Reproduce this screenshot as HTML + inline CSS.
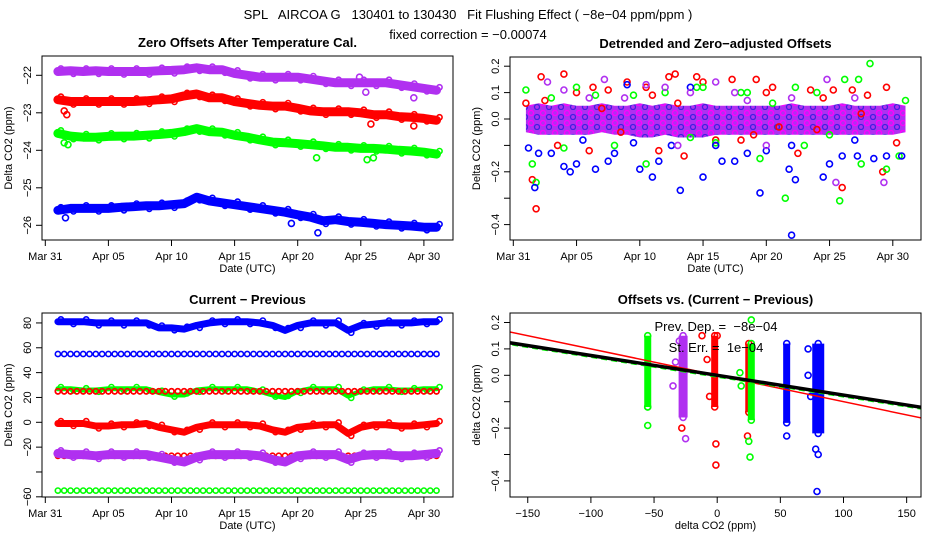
<!DOCTYPE html>
<html><head><meta charset="utf-8"><style>
html,body{margin:0;padding:0;background:#fff;}
svg{display:block;font-family:"Liberation Sans",sans-serif;}
.pre{white-space:pre;}
</style></head><body>
<svg id="c" width="936" height="540" viewBox="0 0 936 540" xmlns="http://www.w3.org/2000/svg">
<defs>
<pattern id="mix" x="0" y="0" width="12" height="10" patternUnits="userSpaceOnUse">
<rect width="12" height="10" fill="#b030f0"/>
<circle cx="3" cy="3" r="2.5" fill="none" stroke="#ff00ff" stroke-width="1.3"/>
<circle cx="9" cy="7" r="2.5" fill="none" stroke="#4020e0" stroke-width="1.3"/>
</pattern>
</defs>
<text class="pre" x="468" y="19" text-anchor="middle" font-size="13">SPL   AIRCOA G   130401 to 130430   Fit Flushing Effect ( −8e−04 ppm/ppm )</text>
<text x="468" y="39" text-anchor="middle" font-size="13">fixed correction = −0.00074</text>
</svg>
<script>
// ---------- data ----------
var dayTicks = [0,5,10,15,20,25,30];
var dayLabels = ["Mar 31","Apr 05","Apr 10","Apr 15","Apr 20","Apr 25","Apr 30"];
var days = [1,2,3,4,5,6,7,8,9,10,11,12,13,14,15,16,17,18,19,20,21,22,23,24,25,26,27,28,29,30,31];
// panel 1: zero offsets
var tlPurple = [-21.9,-21.88,-21.9,-21.88,-21.9,-21.9,-21.9,-21.9,-21.88,-21.87,-21.85,-21.8,-21.85,-21.85,-21.95,-22.0,-22.05,-22.05,-22.05,-22.05,-22.1,-22.15,-22.2,-22.2,-22.2,-22.2,-22.2,-22.25,-22.3,-22.35,-22.4];
var tlRed = [-22.65,-22.7,-22.7,-22.7,-22.7,-22.7,-22.7,-22.68,-22.65,-22.63,-22.55,-22.5,-22.6,-22.6,-22.7,-22.75,-22.8,-22.82,-22.82,-22.88,-22.95,-22.97,-22.97,-22.97,-23.0,-23.05,-23.05,-23.1,-23.12,-23.15,-23.2];
var tlGreen = [-23.55,-23.62,-23.65,-23.65,-23.63,-23.62,-23.62,-23.6,-23.58,-23.55,-23.5,-23.42,-23.5,-23.52,-23.6,-23.65,-23.72,-23.78,-23.8,-23.82,-23.85,-23.88,-23.92,-23.92,-23.95,-23.95,-23.97,-24.0,-24.02,-24.05,-24.1];
var tlBlue = [-25.6,-25.55,-25.55,-25.55,-25.55,-25.52,-25.5,-25.48,-25.48,-25.45,-25.42,-25.25,-25.35,-25.4,-25.45,-25.5,-25.55,-25.6,-25.65,-25.72,-25.78,-25.88,-25.85,-25.9,-25.92,-25.95,-25.98,-26.0,-26.02,-26.05,-26.05];
var tlOutRed = [[1.5,-22.95],[1.7,-23.05],[25.8,-23.3],[29.2,-23.35]];
var tlOutGreen = [[1.5,-23.8],[1.8,-23.85],[21.5,-24.2],[25.5,-24.25],[26,-24.2]];
var tlOutBlue = [[1.6,-25.8],[19.5,-25.95],[21.6,-26.2]];
var tlOutPurple = [[24.9,-22.05],[25.4,-22.45],[29.2,-22.6]];
var tlYTicks = [-22,-23,-24,-25,-26];
// panel 2: detrended
var trRed = [[1,0.06],[1.5,-0.23],[1.8,-0.34],[2.2,0.16],[4,0.17],[5,0.1],[6.3,0.12],[7.5,0.11],[9,0.14],[10.5,0.12],[11,0.09],[12.3,0.16],[12.8,0.17],[13.5,-0.14],[14.5,0.16],[15,0.14],[17.3,0.15],[19.2,0.15],[20,0.1],[20.5,0.12],[22.5,-0.13],[23.5,0.11],[24.5,0.08],[25.3,0.11],[26,-0.26],[26.8,0.11],[28,0.09],[29.2,-0.2],[29.5,0.12],[30.3,-0.09],[3.5,-0.1],[8.5,-0.05],[16,-0.08],[21,-0.03],[6,-0.12],[11.5,-0.12],[18,-0.08],[2.5,0.07],[7,0.04],[13,0.06],[19,-0.06],[24,-0.04],[27.5,0.02]];
var trGreen = [[1,0.11],[1.5,-0.17],[1.8,-0.24],[5,0.12],[6.5,0.09],[9.5,0.09],[12,0.1],[14.5,0.12],[15,0.12],[18,0.1],[18.5,0.1],[19.5,-0.15],[21.5,-0.3],[22.3,0.12],[24,0.1],[25.8,-0.31],[26.2,0.15],[27.3,0.15],[27.5,-0.17],[28.2,0.21],[29.5,-0.19],[30.5,-0.14],[31,0.07],[10.5,-0.17],[4,-0.11],[8,-0.1],[16,-0.09],[23,-0.1],[3,0.08],[14,-0.07],[20.5,0.06],[25,-0.06]];
var trBlue = [[1.2,-0.11],[1.7,-0.26],[2,-0.13],[4,-0.18],[4.5,-0.2],[5,-0.17],[6.5,-0.19],[7.5,-0.16],[9,0.13],[10,-0.19],[11,-0.22],[11.5,-0.16],[13.2,-0.27],[14,0.12],[15,-0.22],[16.5,-0.16],[17.5,-0.16],[18.5,-0.13],[19.5,-0.28],[21.8,-0.19],[22,-0.44],[22.3,-0.23],[24.5,-0.22],[25,-0.17],[26,-0.14],[27.2,-0.14],[28.5,-0.15],[29.5,-0.14],[30.7,-0.14],[8,-0.13],[3,-0.13],[12.5,-0.1],[20,-0.12],[5.5,-0.08],[9.5,-0.09],[16,-0.1],[22,-0.1],[27,-0.08]];
var trPurple = [[2.7,0.14],[4,0.11],[7.2,0.15],[8.8,0.08],[10.5,0.13],[12,0.12],[14,0.1],[16,0.14],[17.5,0.1],[22,0.08],[24.8,0.15],[25.5,-0.24],[27,0.08],[29.3,-0.24],[20,-0.1],[6,0.08],[18.5,0.07],[13,-0.1]];
var trMassHi = [0.05,0.06,0.05,0.06,0.05,0.05,0.06,0.05,0.05,0.06,0.05,0.06,0.05,0.05,0.06,0.05,0.05,0.05,0.05,0.05,0.05,0.06,0.05,0.05,0.05,0.06,0.05,0.05,0.05,0.06,0.05];
var trMassLo = [-0.05,-0.06,-0.06,-0.06,-0.06,-0.06,-0.05,-0.06,-0.06,-0.07,-0.07,-0.06,-0.07,-0.07,-0.07,-0.06,-0.06,-0.06,-0.06,-0.06,-0.06,-0.06,-0.06,-0.06,-0.06,-0.06,-0.06,-0.06,-0.06,-0.06,-0.05];
var trYTicks = [0.2,0.1,0.0,-0.1,-0.2,-0.3,-0.4];
var trYLabels = ["0.2","0.1","0.0","","-0.2","","-0.4"];
// panel 3: current - previous
var blBlue80 = [81,81,81,80,80,80,80,80,76,76,75,78,80,81,81,81,80,78,74,78,80,80,80,74,78,79,80,80,80,81,81];
var blGreen27 = [27,27,26,26,27,27,27,27,24,22,22,26,27,27,27,27,25,22,20,25,27,27,27,21,25,27,27,26,26,27,27];
var blRed0 = [-1,-1,-1,-3,-3,-2,-2,-1,-4,-6,-8,-4,-2,-2,-2,-2,-3,-6,-8,-4,-3,-2,-2,-9,-4,-2,-2,-3,-3,-2,-1];
var blPurple25 = [-25,-26,-26,-27,-26,-26,-26,-26,-28,-30,-32,-28,-26,-26,-26,-26,-27,-30,-32,-27,-26,-26,-26,-30,-27,-26,-26,-27,-27,-26,-25];
var blConstLevels = [55,25,-27,-55];
var blConstColors = ["#0000ff","#ff0000","#ff0000","#00ff00"];
var blYTicks = [80,60,40,20,0,-20,-40,-60];
var blYLabels = ["80","60","40","20","0","-20","","-60"];
// panel 4: offsets vs current-previous
var brClusterX = [-55,-27,-2,25,27,55,80];
var brClusterTop = [0.15,0.15,0.15,0.12,0.12,0.12,0.12];
var brClusterBot = [-0.12,-0.16,-0.12,-0.14,-0.17,-0.18,-0.22];
var brClusterColors = ["#00ff00","#b030f0","#ff0000","#ff0000","#00ff00","#0000ff","#0000ff"];
var brOutliers = [[-55,-0.19,"#00ff00"],[-55,-0.12,"#00ff00"],[-28,-0.2,"#ff0000"],[-25,-0.24,"#b030f0"],[-1,-0.26,"#ff0000"],[-1,-0.34,"#ff0000"],[24,-0.23,"#ff0000"],[25,-0.25,"#00ff00"],[26,-0.31,"#00ff00"],[27,0.21,"#00ff00"],[55,-0.23,"#0000ff"],[78,-0.28,"#0000ff"],[80,-0.3,"#0000ff"],[79,-0.44,"#0000ff"],[-12,0.15,"#ff0000"],[0,0.15,"#ff0000"],[72,0.1,"#0000ff"],[-30,0.13,"#b030f0"],[-33,0.05,"#b030f0"],[-35,-0.04,"#b030f0"],[-8,0.06,"#ff0000"],[-6,-0.08,"#ff0000"],[18,0.01,"#00ff00"],[19,-0.04,"#00ff00"],[72,0.0,"#0000ff"],[74,-0.08,"#0000ff"]];
var brXTicks = [-150,-100,-50,0,50,100,150];
var brYTicks = [0.2,0.1,0.0,-0.1,-0.2,-0.3,-0.4];
var brYLabels = ["0.2","0.1","0.0","","-0.2","","-0.4"];
var fitBlackSlope = -0.00075;
var fitRedSlope = -0.001;

// ---------- drawing ----------
var svg = document.getElementById('c');
var NS = "http://www.w3.org/2000/svg";
function mk(tag, attrs, parent){
  var e = document.createElementNS(NS, tag);
  for (var k in attrs) e.setAttribute(k, attrs[k]);
  (parent||svg).appendChild(e);
  return e;
}
function txt(x,y,s,size,anchor,parent,rot,bold){
  var t = mk('text',{x:x,y:y,'font-size':size,'text-anchor':anchor||'middle'},parent);
  if (rot) t.setAttribute('transform','rotate(-90 '+x+' '+y+')');
  if (bold) t.setAttribute('font-weight','bold');
  t.textContent = s;
  return t;
}
function panel(name, L, T, R, B, title, xlabel, ylabel, xs, xticks, xlabels, ys, yticks, ylabels){
  var g = mk('g',{});
  
  
  var tt = txt((L+R)/2, T-9, title, 13, 'middle', g, false, true);
  
  
  var pts = mk('g',{},g);
  
  
  var ax = mk('g',{stroke:'#000','stroke-width':1,fill:'none'},g);
  
  
  mk('rect',{x:L,y:T,width:R-L,height:B-T},ax);
  var x0 = xs(xticks[0]), x1 = xs(xticks[xticks.length-1]);
  mk('line',{x1:x0,y1:B,x2:x1,y2:B},ax);
  for (var i=0;i<xticks.length;i++){
    var x = xs(xticks[i]);
    mk('line',{x1:x,y1:B,x2:x,y2:B+6},ax);
    var lt = txt(x, B+20, xlabels[i], 11, 'middle', g);
    
    
  }
  var y0 = ys(yticks[0]), y1 = ys(yticks[yticks.length-1]);
  mk('line',{x1:L,y1:y0,x2:L,y2:y1},ax);
  for (var j=0;j<yticks.length;j++){
    var y = ys(yticks[j]);
    mk('line',{x1:L-6,y1:y,x2:L,y2:y},ax);
    if (ylabels[j]!==""){
      var yl = txt(L-11, y, ylabels[j].replace('-','−'), 11, 'middle', g, true);
      
      
    }
  }
  var xl = txt((L+R)/2, B+32, xlabel, 11, 'middle', g);
  
  
  var yt = txt(L-30, (T+B)/2, ylabel, 11, 'middle', g, true);
  
  
  return pts;
}
function circ(p, x, y, col, r){
  var c = mk('circle',{cx:x.toFixed(1),cy:y.toFixed(1),r:r||3,fill:'none',stroke:col,'stroke-width':1.6},p);
  
  
}
function band(p, xs, ys, xsArr, vals, col, w){
  var d = '';
  for (var i=0;i<vals.length;i++) d += (i?'L':'M') + xs(xsArr[i]).toFixed(1)+','+ys(vals[i]).toFixed(1);
  var pa = mk('path',{d:d,fill:'none',stroke:col,'stroke-width':w,'stroke-linejoin':'round','stroke-linecap':'round'},p);
  
  
  for (var k=0;k<vals.length;k++){
    circ(p, xs(xsArr[k])+3, ys(vals[k]) + ((k%2)? w/3 : -w/3), col, 2.6);
  }
}
var dayFmt = dayLabels;

// Panel 1
(function(){
  var xs = function(d){return 45.3 + d*12.62;};
  var ys = function(v){return 75.3 + (-22 - v)*37.5;};
  var p = panel('zero-offsets-panel',42,56,453,240,'Zero Offsets After Temperature Cal.','Date (UTC)','Delta CO2 (ppm)',xs,dayTicks,dayFmt,ys,tlYTicks,tlYTicks.map(String));
  band(p,xs,ys,days,tlPurple,'#b030f0',9);
  band(p,xs,ys,days,tlRed,'#ff0000',9);
  band(p,xs,ys,days,tlGreen,'#00ff00',9);
  band(p,xs,ys,days,tlBlue,'#0000ff',9);
  var outs=[[tlOutRed,'#ff0000'],[tlOutGreen,'#00ff00'],[tlOutBlue,'#0000ff'],[tlOutPurple,'#b030f0']];
  outs.forEach(function(o){o[0].forEach(function(q){circ(p,xs(q[0]),ys(q[1]),o[1]);});});
})();

// Panel 2
(function(){
  var xs = function(d){return 513.3 + d*12.65;};
  var ys = function(v){return 119 - v*264;};
  var p = panel('detrended-panel',510,57,921,240,'Detrended and Zero−adjusted Offsets','Date (UTC)','Delta CO2 (ppm)',xs,dayTicks,dayFmt,ys,trYTicks,trYLabels);
  var d='';
  for (var i=0;i<days.length;i++) d+=(i?'L':'M')+xs(days[i]).toFixed(1)+','+ys(trMassHi[i]).toFixed(1);
  for (var k=days.length-1;k>=0;k--) d+='L'+xs(days[k]).toFixed(1)+','+ys(trMassLo[k]).toFixed(1);
  var m = mk('path',{d:d+'Z',fill:'url(#mix)',stroke:'none'},p);
  
  
  [[trRed,'#ff0000'],[trGreen,'#00ff00'],[trBlue,'#0000ff'],[trPurple,'#b030f0']].forEach(function(o){
    o[0].forEach(function(q){circ(p,xs(q[0]),ys(q[1]),o[1]);});
  });
})();

// Panel 3
(function(){
  var xs = function(d){return 45.3 + d*12.62;};
  var ys = function(v){return 422.3 - v*1.242;};
  var p = panel('current-minus-previous-panel',42,313,453,497,'Current − Previous','Date (UTC)','Delta CO2 (ppm)',xs,dayTicks,dayFmt,ys,blYTicks,blYLabels);
  for (var c=0;c<blConstLevels.length;c++){
    for (var d=1; d<=31; d+=0.5) circ(p,xs(d),ys(blConstLevels[c]),blConstColors[c],2.6);
  }
  band(p,xs,ys,days,blGreen27,'#00ff00',5);
  band(p,xs,ys,days,blPurple25,'#b030f0',9);
  band(p,xs,ys,days,blBlue80,'#0000ff',7);
  band(p,xs,ys,days,blRed0,'#ff0000',7);
  for (var e=1; e<=31; e+=0.5) circ(p,xs(e),ys(blConstLevels[1]),'#ff0000',2.6);
})();

// Panel 4
(function(){
  var xs = function(v){return 717.2 + v*1.263;};
  var ys = function(v){return 375.3 - v*264;};
  var p = panel('offsets-vs-difference-panel',510,313,921,497,'Offsets vs. (Current − Previous)','delta CO2 (ppm)','delta CO2 (ppm)',xs,brXTicks,brXTicks.map(function(v){return String(v).replace('-','−');}),ys,brYTicks,brYLabels);
  for (var i=0;i<brClusterX.length;i++){
    var l = mk('line',{x1:xs(brClusterX[i]),y1:ys(brClusterTop[i]),x2:xs(brClusterX[i]),y2:ys(brClusterBot[i]),stroke:brClusterColors[i],'stroke-width':(brClusterX[i]===80?12:(brClusterX[i]===-27?9:7))},p);
    
    
    circ(p,xs(brClusterX[i]),ys(brClusterTop[i]),brClusterColors[i]);
    circ(p,xs(brClusterX[i]),ys(brClusterBot[i]),brClusterColors[i]);
  }
  brOutliers.forEach(function(q){circ(p,xs(q[0]),ys(q[1]),q[2]);});
  var cp = mk('clipPath',{id:'brclip'},svg);
  mk('rect',{x:510,y:313,width:411,height:184},cp);
  var lg = mk('g',{'clip-path':'url(#brclip)'},p);
  var fr = mk('line',{x1:xs(-170),y1:ys(fitRedSlope*-170),x2:xs(170),y2:ys(fitRedSlope*170),stroke:'#ff0000','stroke-width':1.5},lg);
  
  
  var fg = mk('line',{x1:xs(-170),y1:ys(fitBlackSlope*-170)+1,x2:xs(170),y2:ys(fitBlackSlope*170)+1,stroke:'#00ff00','stroke-width':3,'stroke-dasharray':'6 4'},lg);
  
  
  var fb = mk('line',{x1:xs(-170),y1:ys(fitBlackSlope*-170),x2:xs(170),y2:ys(fitBlackSlope*170),stroke:'#000','stroke-width':3.5},lg);
  
  
  var a1 = txt(716, 331, 'Prev. Dep. =  −8e−04', 13, 'middle', p);
  a1.setAttribute('class', 'pre');
  
  
  var a2 = txt(716, 352, 'St. Err. =  1e−04', 13, 'middle', p);
  a2.setAttribute('class', 'pre');
  
  
})();
</script>
</body></html>
